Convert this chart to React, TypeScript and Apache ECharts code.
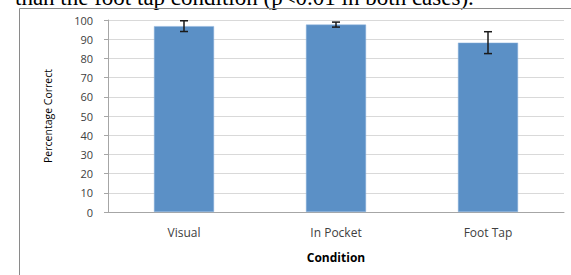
import React, { useEffect, useRef } from "react";
import * as echarts from "echarts";

const categories = ["Visual", "In Pocket", "Foot Tap"];
const values = [96.8, 97.6, 88.2];
const errors = [2.8, 1.3, 5.7];
const yTicks = [0, 10, 20, 30, 40, 50, 60, 70, 80, 90, 100];
const captionText = "than the foot tap condition (p<0.01 in both cases).";

export default function App() {
  const ref = useRef<HTMLDivElement>(null);
  useEffect(() => {
    if (!ref.current) return;
    const chart = echarts.init(ref.current, null, { renderer: "svg" });
    const labelFont = "'Open Sans', 'DejaVu Sans', sans-serif";
    chart.setOption({
      animation: false,
      backgroundColor: "#ffffff",
      graphic: [
        {
          type: "text",
          x: 15,
          y: 9,
          z: 1,
          style: {
            text: captionText,
            font: "23px 'Liberation Serif', serif",
            fill: "#000000",
            textVerticalAlign: "bottom",
          },
          silent: true,
        },
        {
          type: "rect",
          z: 2,
          shape: { x: 19.5, y: 8.5, width: 600, height: 300 },
          style: { fill: "none", stroke: "#8a8a8a", lineWidth: 1 },
          silent: true,
        },
      ],
      grid: { left: 108, right: 7, top: 20, bottom: 63, containLabel: false },
      xAxis: {
        type: "category",
        data: categories,
        name: "Condition",
        nameLocation: "middle",
        nameGap: 39,
        nameTextStyle: { fontFamily: labelFont, fontSize: 12, fontWeight: "bold", color: "#000000" },
        axisLine: { show: true, lineStyle: { color: "#a6a6a6", width: 1 } },
        axisTick: { show: false },
        axisLabel: { fontFamily: labelFont, fontSize: 12, color: "#404040", margin: 14 },
      },
      yAxis: {
        type: "value",
        min: 0,
        max: 100,
        interval: 10,
        name: "Percentage Correct",
        nameLocation: "middle",
        nameGap: 55,
        nameRotate: 90,
        nameTextStyle: { fontFamily: labelFont, fontSize: 10.5, fontWeight: "normal", color: "#000000" },
        axisLine: { show: true, lineStyle: { color: "#a6a6a6", width: 1 } },
        axisTick: { show: true, length: 4, lineStyle: { color: "#a6a6a6" } },
        axisLabel: {
          fontFamily: labelFont,
          fontSize: 11,
          color: "#404040",
          margin: 15,
          formatter: (v: number) => (yTicks.includes(v) ? String(v) : ""),
        },
        splitLine: { show: true, lineStyle: { color: "#d9d9d9", width: 1 } },
      },
      series: [
        {
          type: "bar",
          data: values,
          barWidth: "39.5%",
          itemStyle: { color: "#5b90c6", borderColor: "#8db3dc", borderWidth: 0.5 },
        },
        {
          type: "custom",
          data: values.map((v, i) => [i, v - errors[i], v + errors[i]]),
          renderItem: (params: any, api: any) => {
            const x = api.value(0);
            const lo = api.coord([x, api.value(1)]);
            const hi = api.coord([x, api.value(2)]);
            const cap = 4;
            const style = { stroke: "#1a1a1a", lineWidth: 1.5 };
            return {
              type: "group",
              children: [
                { type: "line", shape: { x1: lo[0], y1: lo[1], x2: hi[0], y2: hi[1] }, style },
                { type: "line", shape: { x1: lo[0] - cap, y1: lo[1], x2: lo[0] + cap, y2: lo[1] }, style },
                { type: "line", shape: { x1: hi[0] - cap, y1: hi[1], x2: hi[0] + cap, y2: hi[1] }, style },
              ],
            };
          },
          z: 5,
        },
      ],
    });
    return () => chart.dispose();
  }, []);
  return (
    <div
      ref={ref}
      style={{ position: "fixed", left: 0, top: 0, width: 571, height: 275, background: "#fff" }}
    />
  );
}
